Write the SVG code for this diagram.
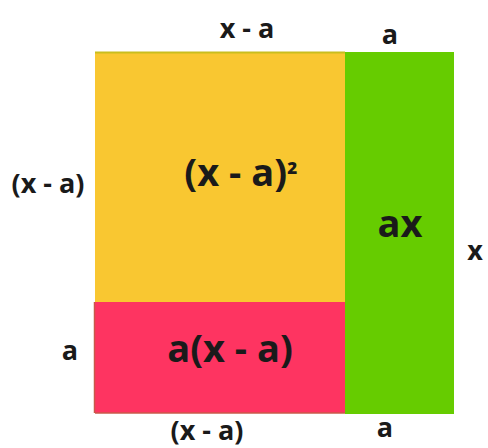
<svg xmlns="http://www.w3.org/2000/svg" width="488" height="448" viewBox="0 0 488 448">
<style>
text{font-family:"Open Sans","Liberation Sans",Arial,sans-serif;font-weight:bold;fill:#1a1a1a;text-anchor:middle}
.lbl{font-size:27px}
.big{font-size:38px}
.sup{font-size:28px}
</style>
<rect width="488" height="448" fill="#ffffff"/>
<g id="yellow">
<rect x="95" y="52" width="250" height="250" fill="#F9C731"/>
<line x1="95" y1="52.5" x2="345" y2="52.5" stroke="#C9BE1E" stroke-width="2"/>
<text class="big" x="241" y="186">(x - a)<tspan class="sup">²</tspan></text>
</g>
<g id="green">
<rect x="345" y="52" width="109" height="362" fill="#66CC00"/>
<text class="big" x="400" y="237">ax</text>
</g>
<g id="red">
<rect x="95" y="302" width="250" height="111" fill="#FE3461"/>
<line x1="94.5" y1="302" x2="94.5" y2="413" stroke="#C8584A" stroke-width="1.5"/>
<line x1="95" y1="413" x2="345" y2="413" stroke="#C8584A" stroke-width="1.5"/>
<text class="big" x="230" y="362">a(x - a)</text>
</g>
<g id="labels">
<text class="lbl" x="247" y="38">x - a</text>
<text class="lbl" x="390" y="44">a</text>
<text class="lbl" x="48" y="193">(x - a)</text>
<text class="lbl" x="475" y="260">x</text>
<text class="lbl" x="70" y="360">a</text>
<text class="lbl" x="207" y="440">(x - a)</text>
<text class="lbl" x="385" y="437">a</text>
</g>
<g id="connectors"></g>
</svg>
